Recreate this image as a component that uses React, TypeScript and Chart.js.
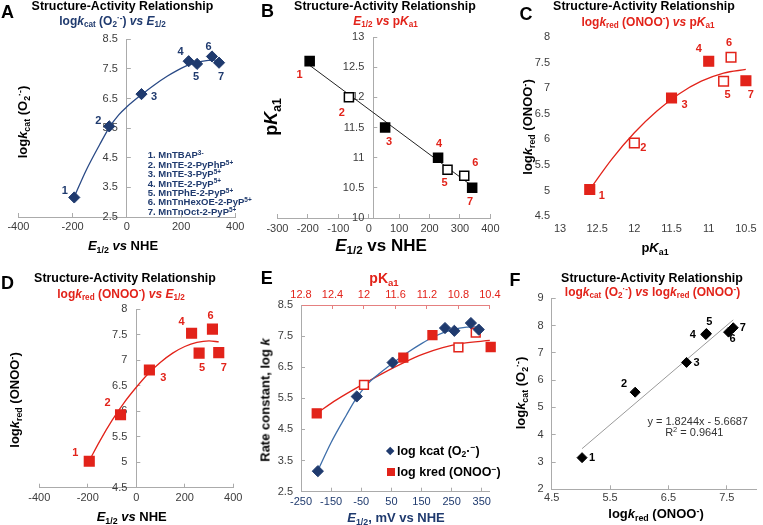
import React, { useEffect, useRef } from 'react';
import { Chart, registerables } from 'chart.js';

Chart.register(...registerables);

const FONT = '"Liberation Sans", Arial, Helvetica, sans-serif';

// ---------------- data ----------------
const compoundNos = ['1', '2', '3', '4', '5', '6', '7'];
const compoundNames = ['MnTBAP', 'MnTE-2-PyPhP', 'MnTE-3-PyP', 'MnTE-2-PyP', 'MnTPhE-2-PyP', 'MnTnHexOE-2-PyP', 'MnTnOct-2-PyP'];
const compoundCharges = ['3-', '5+', '5+', '5+', '5+', '5+', '5+'];
const e12 = [-194, -65, 54, 228, 259, 314, 340];
const logKcat = [3.16, 5.56, 6.65, 7.76, 7.67, 7.92, 7.71];
const pKa1 = [12.6, 12.0, 11.5, 11.0, 10.8, 10.7, 10.5];
const logKred = [5.02, 5.93, 6.81, 7.53, 7.14, 7.61, 7.15];
const hollowMarker = [false, true, false, false, true, true, false];
const pKa1AsPlottedE = [12.6, 12.0, 11.5, 11.13, 10.8, 10.58, 10.39];

// trend curves
const kcatFitE = [-194, -150, -100, -65, -30, 0, 54, 100, 150, 200, 250, 300, 340];
const kcatFitY = [3.18, 4.08, 4.95, 5.52, 5.95, 6.22, 6.63, 6.95, 7.26, 7.52, 7.7, 7.79, 7.8];
const kredFitE = [-194, -150, -100, -50, 0, 50, 100, 150, 200, 250, 300, 340];
const kredFitY = [5.03, 5.42, 5.82, 6.17, 6.47, 6.74, 6.96, 7.14, 7.27, 7.35, 7.38, 7.36];
const kredFitPKa = [12.6, 12.3, 12.0, 11.7, 11.4, 11.1, 10.8, 10.5];
const kredFitPKaY = [5.02, 5.62, 6.13, 6.55, 6.89, 7.14, 7.3, 7.37];
const kredFitPKaE = [12.6, 12.35, 12.0, 11.75, 11.5, 11.25, 11.0, 10.75, 10.4];
const kredFitPKaEY = [5.02, 5.45, 5.97, 6.32, 6.64, 6.92, 7.13, 7.27, 7.36];
const pKaLineE = [-194, 340];
const pKaLineY = [12.53, 10.53];
const corrLineX = [5.02, 7.61];
const corrLineY = [3.49, 8.21];
const corrLabels = ['1', '2', '3', '6', '4', '7', '5'];

// tick values
const eBottomTicks = [-250, -150, -50, 50, 150, 250, 350];
const fXTicks = [4.5, 5.5, 6.5, 7.5];
const regressionText = 'y = 1.8244x - 5.6687';
const r2Value = '0.9641';

// ---------------- styles ----------------
const NAVY = '#1F3A6E';
const NAVY_LINE = '#2A4A86';
const BLUE_LINE = '#3F6FAA';
const RED = '#E2231A';
const RED_AXIS = '#E58080';
const AXIS = '#ABABAB';
const TICKC = '#3C3C3C';
const TICK_SIZE = 11;
const LH = 1.2;
const YW = 40; // width reserved for vertical axes

// label offsets (px) per point
const OFF_A = [[-9.5, -6], [-11, -5], [12.5, 3], [-8, -9], [-1, 13.5], [-3.5, -10], [2, 14.5]];
const OFF_B = [[-10, 14], [-7, 16], [4, 14.5], [1, -14], [-3, 13], [11, -13], [-2, 14]];
const OFF_C = [[12, 7], [9, 4.5], [13, 7], [-10, -12], [4, 14], [-2, -14], [5, 14]];
const OFF_D = [[-14, -8.5], [-13, -12], [14, 8], [-10, -11], [3, 14.5], [-2, -13], [5, 15]];
const OFF_F = [[10, 0], [-11, -8], [10, 1], [4, 7], [-13, 0], [9.5, 0.5], [3, -12]];

type Rect = { l: number; t: number; w: number; h: number };
type Area = { L: number; T: number; R: number; B: number };

const pts = (xs: number[], ys: number[]) => xs.map((x, i) => ({ x, y: ys[i] }));

function padding(rect: Rect, area: Area, wl: number, hb: number, ht: number) {
  return {
    left: area.L - rect.l - wl,
    top: area.T - rect.t - ht,
    right: rect.l + rect.w - area.R,
    bottom: rect.t + rect.h - area.B - hb,
  };
}

function axis(o: any) {
  const horiz = o.position === 'bottom' || o.position === 'top';
  const line = o.line !== false;
  const tl = line ? -4 : 0;
  const pad = horiz ? o.gap - (TICK_SIZE * LH) / 2 - tl : o.gap - tl;
  const col = o.lineColor || AXIS;
  const cfg: any = {
    type: 'linear',
    position: o.position,
    min: o.min,
    max: o.max,
    reverse: !!o.reverse,
    afterFit: (s: any) => {
      if (horiz) s.height = o.size;
      else s.width = o.size;
    },
    grid: { display: line, drawOnChartArea: false, drawTicks: line, tickLength: tl, color: col, tickColor: col, lineWidth: 1 },
    border: { display: line, color: col, width: 1 },
    ticks: {
      stepSize: o.step,
      autoSkip: false,
      maxRotation: 0,
      minRotation: 0,
      padding: pad,
      color: o.labelColor || TICKC,
      font: { family: FONT, size: TICK_SIZE, lineHeight: LH },
      format: { minimumFractionDigits: 0, maximumFractionDigits: 1 },
    },
  };
  if (o.ticks) cfg.afterBuildTicks = (s: any) => { s.ticks = o.ticks.map((v: number) => ({ value: v })); };
  return cfg;
}

function baseOptions(rect: Rect, area: Area, wl: number, hb: number, ht: number, scales: any, extra: any = {}) {
  return {
    responsive: false,
    maintainAspectRatio: false,
    animation: false,
    events: [],
    layout: { autoPadding: false, padding: padding(rect, area, wl, hb, ht) },
    scales,
    plugins: { legend: { display: false }, tooltip: { enabled: false }, ...extra },
  };
}

// moves the (zero-width) left y axis so that it crosses the x axis at a data value
const crossY = {
  id: 'crossY',
  afterLayout(chart: any, _a: any, opts: any) {
    if (!opts || opts.at == null) return;
    const px = chart.scales.x.getPixelForValue(opts.at);
    const y = chart.scales.y;
    y.left = px - YW;
    y.right = px;
  },
};

const numLabels = {
  id: 'numLabels',
  afterDatasetsDraw(chart: any) {
    const ctx = chart.ctx;
    chart.data.datasets.forEach((ds: any, i: number) => {
      if (!ds.numLabels) return;
      const meta = chart.getDatasetMeta(i);
      ctx.save();
      ctx.font = `bold 11px ${FONT}`;
      ctx.fillStyle = ds.numColor;
      ctx.textAlign = 'center';
      ctx.textBaseline = 'middle';
      meta.data.forEach((el: any, j: number) => {
        const off = ds.numOffsets[j];
        ctx.fillText(ds.numLabels[j], el.x + off[0], el.y + off[1]);
      });
      ctx.restore();
    });
  },
};

const curve = (data: any, color: string, xAxisID = 'x', width = 1.3) => ({
  data,
  xAxisID,
  showLine: true,
  pointRadius: 0,
  borderColor: color,
  backgroundColor: color,
  borderWidth: width,
  cubicInterpolationMode: 'monotone',
});

const squares = (data: any, color: string, hollow: boolean[] | null, r: number, xAxisID = 'x') => ({
  data,
  xAxisID,
  clip: false,
  pointStyle: 'rect',
  pointRadius: r,
  backgroundColor: hollow ? hollow.map((h) => (h ? '#ffffff' : color)) : color,
  borderColor: color,
  borderWidth: 1.5,
});

const diamonds = (data: any, color: string, r: number, xAxisID = 'x') => ({
  data,
  xAxisID,
  clip: false,
  pointStyle: 'rectRot',
  pointRadius: r,
  backgroundColor: color,
  borderColor: color,
  borderWidth: 1,
});

// ---------------- panels ----------------
const rectA: Rect = { l: 0, t: 0, w: 254, h: 262 };
const areaA: Area = { L: 11, T: 39.3, R: 235.3, B: 217 };
const rectB: Rect = { l: 254, t: 0, w: 254, h: 262 };
const areaB: Area = { L: 277.4, T: 37, R: 493.7, B: 218 };
const rectC: Rect = { l: 508, t: 0, w: 255, h: 262 };
const areaC: Area = { L: 560, T: 37.3, R: 752, B: 216 };
const rectD: Rect = { l: 0, t: 262, w: 254, h: 263 };
const areaD: Area = { L: 39.3, T: 309.3, R: 233.3, B: 487.7 };
const rectE: Rect = { l: 254, t: 262, w: 254, h: 263 };
const areaE: Area = { L: 301, T: 305, R: 490, B: 491.7 };
const rectF: Rect = { l: 508, t: 262, w: 255, h: 263 };
const areaF: Area = { L: 551.7, T: 298.3, R: 756, B: 489.3 };

function configA() {
  return {
    type: 'scatter',
    data: {
      datasets: [
        { ...diamonds(pts(e12, logKcat), NAVY, 5.6), numLabels: compoundNos, numOffsets: OFF_A, numColor: NAVY },
        curve(pts(kcatFitE, kcatFitY), NAVY_LINE),
      ],
    },
    options: baseOptions(rectA, areaA, 0, 20, 0, {
      x: axis({ position: 'bottom', min: -400, max: 400, step: 200, size: 20, gap: 10 }),
      y: axis({ position: 'left', min: 2.5, max: 8.5, step: 1, size: 0, gap: 9 }),
    }, { crossY: { at: 0 } }),
    plugins: [crossY, numLabels],
  };
}

function configB() {
  return {
    type: 'scatter',
    data: {
      datasets: [
        { ...squares(pts(e12, pKa1), '#000000', hollowMarker, 6.4), numLabels: compoundNos, numOffsets: OFF_B, numColor: RED },
        curve(pts(pKaLineE, pKaLineY), '#222222', 'x', 1),
      ],
    },
    options: baseOptions(rectB, areaB, 0, 20, 0, {
      x: axis({ position: 'bottom', min: -300, max: 400, step: 100, size: 20, gap: 11 }),
      y: axis({ position: 'left', min: 10, max: 13, step: 0.5, size: 0, gap: 9 }),
    }, { crossY: { at: 15 } }),
    plugins: [crossY, numLabels],
  };
}

function configC() {
  return {
    type: 'scatter',
    data: {
      datasets: [
        { ...squares(pts(pKa1, logKred), RED, hollowMarker, 6.8), numLabels: compoundNos, numOffsets: OFF_C, numColor: RED },
        curve(pts(kredFitPKa, kredFitPKaY), RED),
      ],
    },
    options: baseOptions(rectC, areaC, YW, 20, 0, {
      x: axis({ position: 'bottom', min: 10.5, max: 13, step: 0.5, reverse: true, size: 20, gap: 13, line: false }),
      y: axis({ position: 'left', min: 4.5, max: 8, step: 0.5, size: YW, gap: 10, line: false }),
    }),
    plugins: [numLabels],
  };
}

function configD() {
  return {
    type: 'scatter',
    data: {
      datasets: [
        { ...squares(pts(e12, logKred), RED, null, 6.8), numLabels: compoundNos, numOffsets: OFF_D, numColor: RED },
        curve(pts(kredFitE, kredFitY), RED),
      ],
    },
    options: baseOptions(rectD, areaD, 0, 20, 0, {
      x: axis({ position: 'bottom', min: -400, max: 400, step: 200, size: 20, gap: 10.5 }),
      y: axis({ position: 'left', min: 4.5, max: 8, step: 0.5, size: 0, gap: 9 }),
    }, { crossY: { at: 0 } }),
    plugins: [crossY, numLabels],
  };
}

function configE() {
  return {
    type: 'scatter',
    data: {
      datasets: [
        diamonds(pts(e12, logKcat), NAVY, 5.6),
        squares(pts(pKa1AsPlottedE, logKred), RED, hollowMarker, 6.2, 'x2'),
        curve(pts(kcatFitE, kcatFitY), BLUE_LINE),
        curve(pts(kredFitPKaE, kredFitPKaEY), RED, 'x2'),
      ],
    },
    options: baseOptions(rectE, areaE, YW, 20, 20, {
      x: axis({ position: 'bottom', min: -250, max: 377, ticks: eBottomTicks, size: 20, gap: 10, labelColor: NAVY }),
      x2: axis({ position: 'top', min: 10.4, max: 12.8, step: 0.4, reverse: true, size: 20, gap: 10, labelColor: RED, lineColor: RED_AXIS }),
      y: axis({ position: 'left', min: 2.5, max: 8.5, step: 1, size: YW, gap: 8 }),
    }),
    plugins: [],
  };
}

function configF() {
  return {
    type: 'scatter',
    data: {
      datasets: [
        { ...diamonds(pts(logKred, logKcat), '#000000', 5), numLabels: corrLabels, numOffsets: OFF_F, numColor: '#000000' },
        curve(pts(corrLineX, corrLineY), '#9A9A9A', 'x', 1),
      ],
    },
    options: baseOptions(rectF, areaF, YW, 20, 0, {
      x: axis({ position: 'bottom', min: 4.5, max: 8, ticks: fXTicks, size: 20, gap: 9 }),
      y: axis({ position: 'left', min: 2, max: 9, step: 1, size: YW, gap: 8 }),
    }),
    plugins: [numLabels],
  };
}

function ChartCanvas({ rect, make }: { rect: Rect; make: () => any }) {
  const ref = useRef<HTMLCanvasElement>(null);
  useEffect(() => {
    const chart = new Chart(ref.current as HTMLCanvasElement, make());
    return () => chart.destroy();
  }, []);
  return (
    <canvas
      ref={ref}
      width={rect.w}
      height={rect.h}
      style={{ position: 'absolute', left: rect.l, top: rect.t, width: rect.w, height: rect.h }}
    />
  );
}

// ---------------- text helpers ----------------
const Sub = ({ children }: any) => (
  <span style={{ fontSize: '0.68em', position: 'relative', top: '0.3em' }}>{children}</span>
);
const Sup = ({ children }: any) => (
  <span style={{ fontSize: '0.68em', position: 'relative', top: '-0.5em' }}>{children}</span>
);

function T({ x, y, s = 12, b = true, c = '#000', r = 0, children }: any) {
  return (
    <div
      style={{
        position: 'absolute',
        left: x,
        top: y,
        transform: `translate(-50%, -50%)${r ? ` rotate(${r}deg)` : ''}`,
        fontFamily: FONT,
        fontSize: s,
        fontWeight: b ? 'bold' : 'normal',
        color: c,
        lineHeight: 1,
        whiteSpace: 'nowrap',
      }}
    >
      {children}
    </div>
  );
}

const TITLE = 'Structure-Activity Relationship';
const TS = 12.4;
const LET = 18;

const KcatLabel = () => (<>log<i>k</i><Sub>cat</Sub> (O<Sub>2</Sub><Sup>·-</Sup>)</>);
const KredLabel = () => (<>log<i>k</i><Sub>red</Sub> (ONOO<Sup>-</Sup>)</>);

const legendText = { position: 'absolute', fontFamily: FONT, fontWeight: 'bold', lineHeight: 1, whiteSpace: 'nowrap' } as const;

export default function App() {
  useEffect(() => {
    document.body.style.margin = '0';
  }, []);
  return (
    <div style={{ position: 'absolute', left: 0, top: 0, width: 763, height: 525, background: '#ffffff', overflow: 'hidden' }}>
      <ChartCanvas rect={rectA} make={configA} />
      <ChartCanvas rect={rectB} make={configB} />
      <ChartCanvas rect={rectC} make={configC} />
      <ChartCanvas rect={rectD} make={configD} />
      <ChartCanvas rect={rectE} make={configE} />
      <ChartCanvas rect={rectF} make={configF} />

      {/* Panel A */}
      <T x={7.5} y={11.5} s={LET}>A</T>
      <T x={122.5} y={6} s={TS}>{TITLE}</T>
      <T x={112.5} y={21} s={12} c={NAVY}>log<i>k</i><Sub>cat</Sub> (O<Sub>2</Sub><Sup>·-</Sup>) <i>vs E</i><Sub>1/2</Sub></T>
      <T x={22} y={122} s={13} r={-90}><KcatLabel /></T>
      <T x={123} y={245} s={13}><i>E</i><Sub>1/2</Sub> <i>vs</i> NHE</T>
      {compoundNames.map((n, i) => (
        <div
          key={n}
          style={{ ...legendText, left: 147.7, top: 155.3 + i * 9.42, transform: 'translateY(-50%)', fontSize: 9.5, color: NAVY }}
        >
          {compoundNos[i]}. {n}<Sup>{compoundCharges[i]}</Sup>
        </div>
      ))}

      {/* Panel B */}
      <T x={267.5} y={11} s={LET}>B</T>
      <T x={385} y={6} s={TS}>{TITLE}</T>
      <T x={385.5} y={21} s={12} c={RED}><i>E</i><Sub>1/2</Sub> <i>vs</i> p<i>K</i><Sub>a1</Sub></T>
      <T x={270.5} y={117} s={18} r={-90}>p<i>K</i><Sub>a1</Sub></T>
      <T x={381} y={245} s={17}><i>E</i><Sub>1/2</Sub> vs NHE</T>

      {/* Panel C */}
      <T x={526} y={13.5} s={LET}>C</T>
      <T x={644} y={6} s={TS}>{TITLE}</T>
      <T x={648} y={21.5} s={12} c={RED}>log<i>k</i><Sub>red</Sub> (ONOO<Sup>-</Sup>) <i>vs</i> p<i>K</i><Sub>a1</Sub></T>
      <T x={526.7} y={127} s={13} r={-90}><KredLabel /></T>
      <T x={655} y={247} s={13}>p<i>K</i><Sub>a1</Sub></T>

      {/* Panel D */}
      <T x={7.5} y={282.5} s={LET}>D</T>
      <T x={125} y={278} s={TS}>{TITLE}</T>
      <T x={121} y={293.5} s={12} c={RED}>log<i>k</i><Sub>red</Sub> (ONOO<Sup>-</Sup>) <i>vs E</i><Sub>1/2</Sub></T>
      <T x={13.5} y={400} s={13} r={-90}><KredLabel /></T>
      <T x={131.7} y={516} s={13}><i>E</i><Sub>1/2</Sub> <i>vs</i> NHE</T>

      {/* Panel E */}
      <T x={266.7} y={277.5} s={LET}>E</T>
      <T x={384} y={278} s={14} c={RED}>pK<Sub>a1</Sub></T>
      <T x={265} y={400} s={13} r={-90}>Rate constant, log <i>k</i></T>
      <T x={396} y={517} s={13} c={NAVY}><i>E</i><Sub>1/2</Sub>, mV vs NHE</T>
      <div style={{ position: 'absolute', left: 390 - 3.2, top: 450.7 - 3.2, width: 6.4, height: 6.4, background: NAVY, transform: 'rotate(45deg)' }} />
      <div style={{ ...legendText, left: 397, top: 450.7, transform: 'translateY(-50%)', fontSize: 12.5 }}>
        log kcat (O<Sub>2</Sub>·<Sup>−</Sup>)
      </div>
      <div style={{ position: 'absolute', left: 390.7 - 4, top: 472 - 4, width: 8, height: 8, background: RED }} />
      <div style={{ ...legendText, left: 397, top: 472, transform: 'translateY(-50%)', fontSize: 12.5 }}>
        log kred (ONOO<Sup>−</Sup>)
      </div>

      {/* Panel F */}
      <T x={515} y={279.5} s={LET}>F</T>
      <T x={652} y={278} s={TS}>{TITLE}</T>
      <T x={652.5} y={291.7} s={12} c={RED}>log<i>k</i><Sub>cat</Sub> (O<Sub>2</Sub><Sup>·-</Sup>) <i>vs</i> log<i>k</i><Sub>red</Sub> (ONOO<Sup>-</Sup>)</T>
      <T x={520} y={393} s={13} r={-90}><KcatLabel /></T>
      <T x={656} y={513} s={13}><KredLabel /></T>
      <T x={697.7} y={421} s={11} b={false} c="#333">{regressionText}</T>
      <T x={694.3} y={431.7} s={11} b={false} c="#333">R<Sup>2</Sup> = {r2Value}</T>
    </div>
  );
}
